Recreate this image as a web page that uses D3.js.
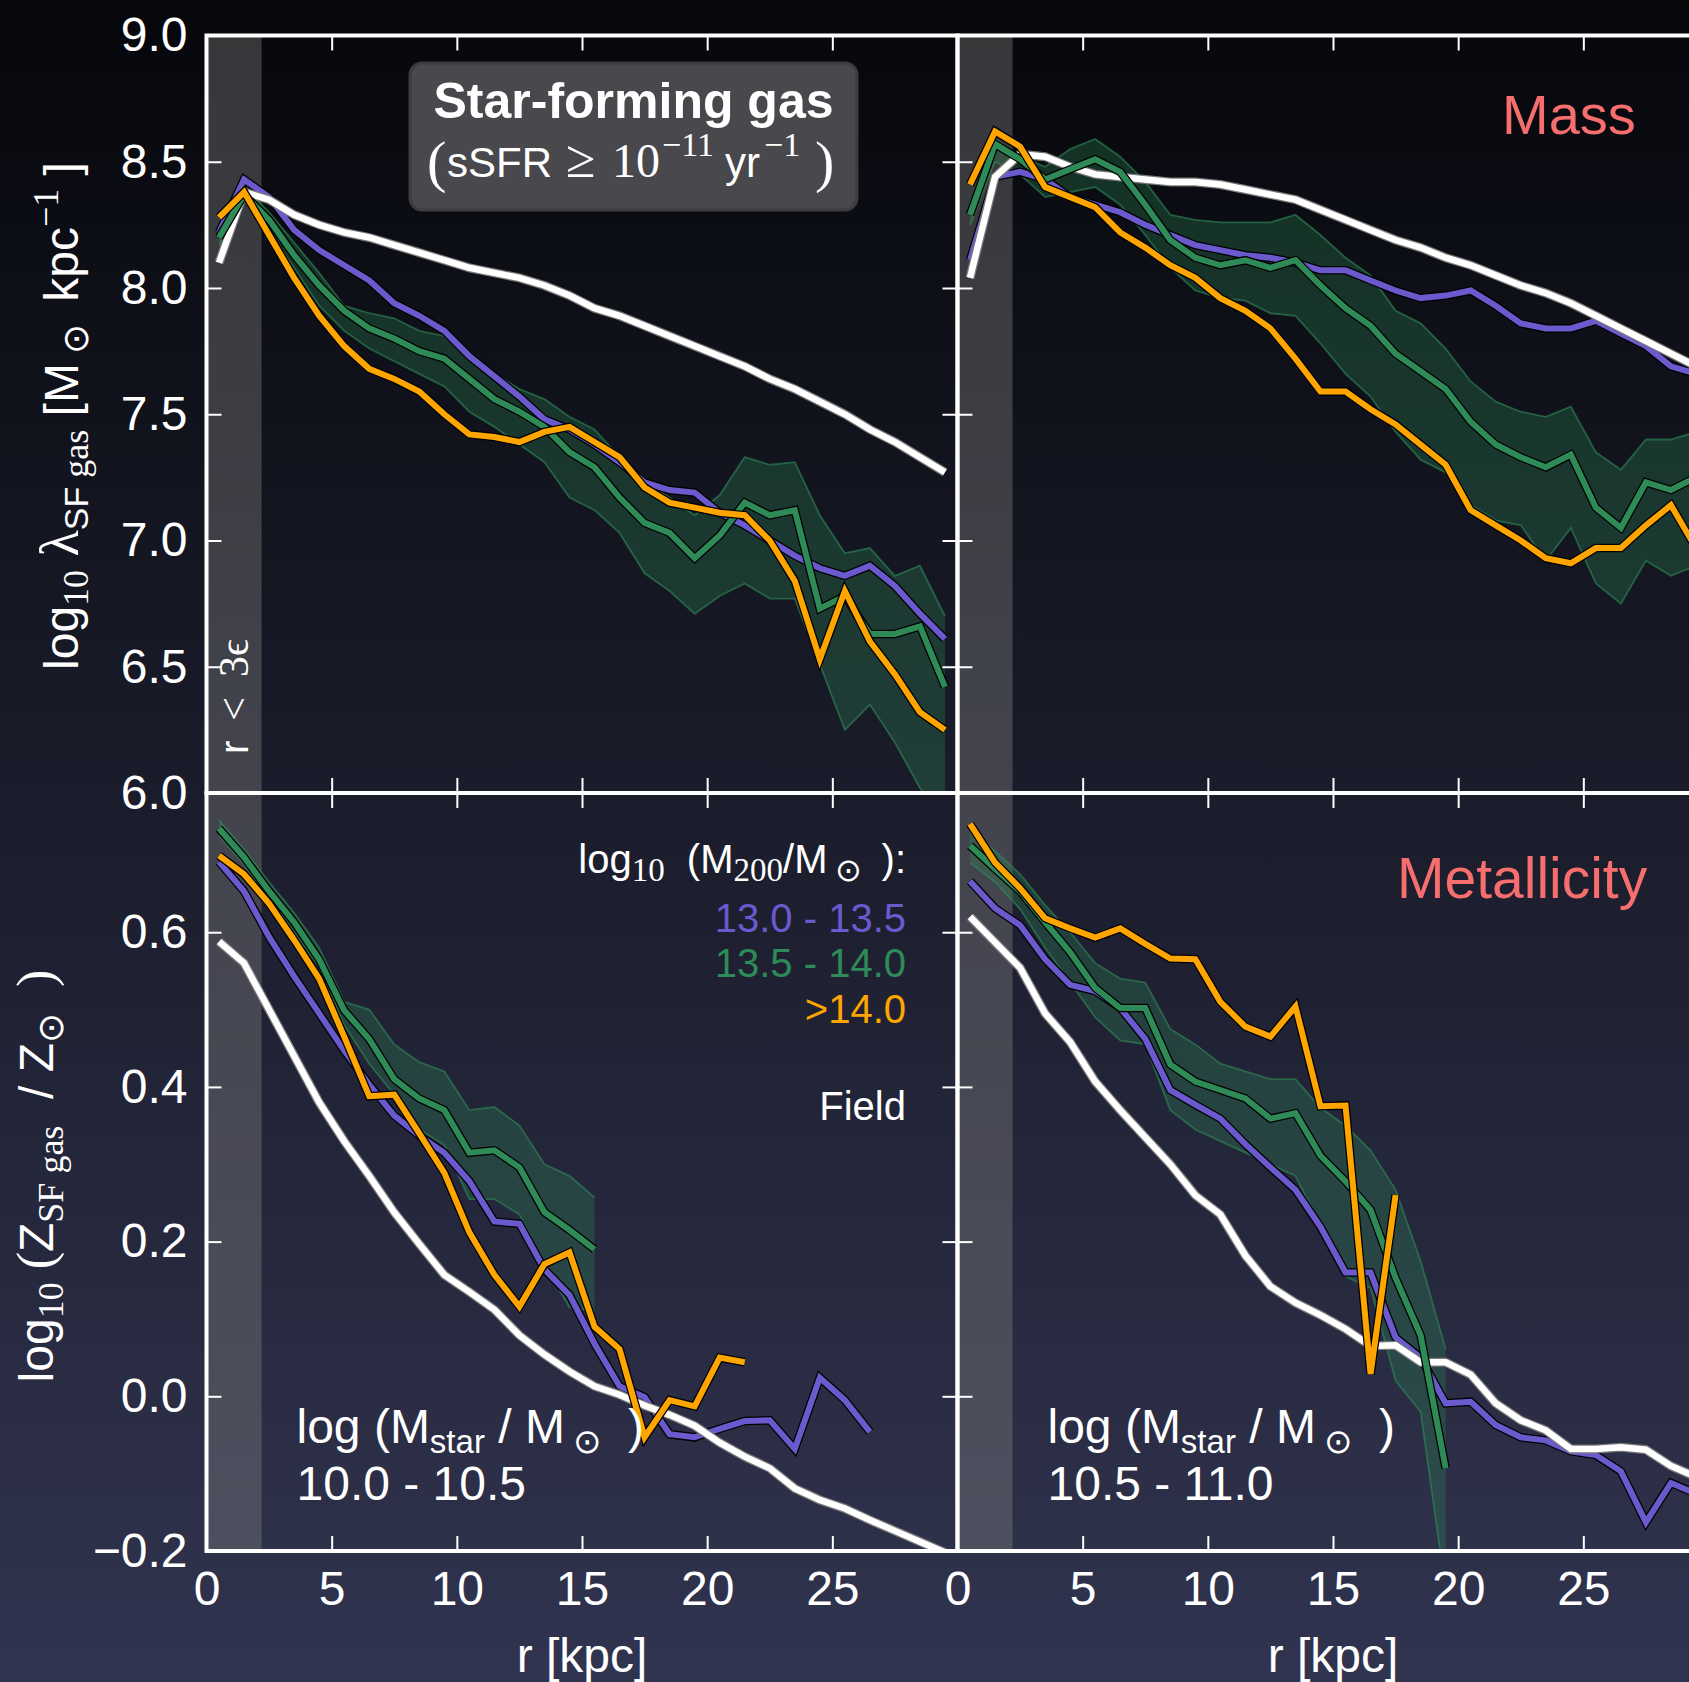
<!DOCTYPE html>
<html>
<head>
<meta charset="utf-8">
<script src="https://cdn.jsdelivr.net/npm/d3@7"></script>
<style>
  html, body { margin: 0; padding: 0; background: #06070b; overflow: hidden; }
  text { white-space: pre; }
</style>
</head>
<body>
<script>
// Radial bins (kpc, bin centres)
const radii = [0.5, 1.5, 2.5, 3.5, 4.5, 5.5, 6.5, 7.5, 8.5, 9.5, 10.5, 11.5, 12.5, 13.5, 14.5,
               15.5, 16.5, 17.5, 18.5, 19.5, 20.5, 21.5, 22.5, 23.5, 24.5, 25.5, 26.5, 27.5, 28.5, 29.5];

// Halo-mass bins
const haloLabels = ["13.0 - 13.5", "13.5 - 14.0", ">14.0"];

// Star-forming gas mass profile, log Mstar 10.0 - 10.5
const massLoField = [8.10, 8.38, 8.35, 8.29, 8.25, 8.22, 8.20, 8.17, 8.14, 8.11, 8.08, 8.06, 8.04, 8.01, 7.97,
                     7.92, 7.89, 7.85, 7.81, 7.77, 7.73, 7.69, 7.64, 7.60, 7.55, 7.50, 7.44, 7.39, 7.33, 7.27];
const massLoH13 = [8.22, 8.43, 8.36, 8.23, 8.15, 8.09, 8.03, 7.94, 7.89, 7.83, 7.73, 7.65, 7.57, 7.48, 7.44,
                   7.38, 7.31, 7.23, 7.20, 7.19, 7.11, 7.06, 7.00, 6.94, 6.89, 6.86, 6.90, 6.82, 6.71, 6.61];
const massLoH135 = [8.20, 8.37, 8.27, 8.13, 8.01, 7.91, 7.84, 7.80, 7.75, 7.72, 7.64, 7.56, 7.51, 7.45, 7.35,
                    7.29, 7.17, 7.07, 7.03, 6.93, 7.02, 7.15, 7.10, 7.12, 6.73, 6.78, 6.63, 6.63, 6.66, 6.42];
const massLoH135Hi = [8.22, 8.40, 8.30, 8.18, 8.06, 7.93, 7.90, 7.88, 7.83, 7.81, 7.72, 7.66, 7.60, 7.56, 7.49,
                      7.44, 7.33, 7.23, 7.17, 7.10, 7.18, 7.33, 7.30, 7.31, 7.10, 6.95, 6.97, 6.86, 6.90, 6.70];
const massLoH135Lo = [8.17, 8.35, 8.22, 8.08, 7.93, 7.83, 7.76, 7.71, 7.66, 7.61, 7.51, 7.45, 7.38, 7.31, 7.17,
                      7.12, 7.03, 6.87, 6.80, 6.71, 6.78, 6.83, 6.77, 6.77, 6.51, 6.25, 6.35, 6.20, 6.02, 5.90];
const massLoH14 = [8.28, 8.38, 8.21, 8.04, 7.89, 7.77, 7.68, 7.64, 7.59, 7.50, 7.42, 7.41, 7.39, 7.43, 7.45,
                   7.39, 7.33, 7.21, 7.15, 7.13, 7.11, 7.10, 7.00, 6.84, 6.53, 6.80, 6.60, 6.47, 6.32, 6.25];

// Star-forming gas mass profile, log Mstar 10.5 - 11.0
const massHiField = [8.04, 8.44, 8.53, 8.52, 8.48, 8.45, 8.44, 8.43, 8.42, 8.42, 8.41, 8.39, 8.37, 8.35, 8.31,
                     8.27, 8.23, 8.19, 8.16, 8.12, 8.09, 8.05, 8.01, 7.98, 7.94, 7.89, 7.84, 7.79, 7.74, 7.69];
const massHiH13 = [8.11, 8.44, 8.46, 8.43, 8.36, 8.33, 8.30, 8.25, 8.21, 8.17, 8.15, 8.13, 8.12, 8.10, 8.07,
                   8.07, 8.03, 7.99, 7.96, 7.97, 7.99, 7.93, 7.86, 7.84, 7.84, 7.87, 7.82, 7.77, 7.69, 7.66];
const massHiH135 = [8.29, 8.57, 8.51, 8.43, 8.47, 8.51, 8.46, 8.33, 8.19, 8.12, 8.09, 8.11, 8.08, 8.11, 8.01,
                    7.92, 7.85, 7.74, 7.67, 7.60, 7.47, 7.38, 7.33, 7.29, 7.34, 7.13, 7.05, 7.23, 7.20, 7.25];
const massHiH135Hi = [8.33, 8.59, 8.52, 8.48, 8.55, 8.59, 8.52, 8.42, 8.29, 8.27, 8.26, 8.26, 8.26, 8.29, 8.21,
                      8.12, 8.05, 7.91, 7.86, 7.76, 7.63, 7.55, 7.51, 7.49, 7.53, 7.35, 7.28, 7.40, 7.40, 7.43];
const massHiH135Lo = [8.25, 8.50, 8.45, 8.36, 8.38, 8.40, 8.33, 8.21, 8.08, 7.99, 7.96, 7.95, 7.90, 7.89, 7.78,
                      7.66, 7.57, 7.43, 7.32, 7.27, 7.14, 7.08, 7.06, 6.92, 7.05, 6.83, 6.75, 6.92, 6.86, 6.90];
const massHiH14 = [8.41, 8.62, 8.56, 8.40, 8.36, 8.32, 8.22, 8.16, 8.09, 8.04, 7.96, 7.91, 7.84, 7.72, 7.59,
                   7.59, 7.52, 7.46, 7.38, 7.30, 7.12, 7.06, 7.00, 6.93, 6.91, 6.97, 6.97, 7.06, 7.14, 6.97];

// Star-forming gas metallicity profile, log Mstar 10.0 - 10.5
const metalLoField = [0.588, 0.560, 0.500, 0.440, 0.380, 0.330, 0.285, 0.238, 0.197, 0.157, 0.135, 0.112, 0.079, 0.054, 0.032,
                      0.013, 0.002, -0.012, -0.024, -0.038, -0.060, -0.078, -0.093, -0.119, -0.134, -0.145, -0.160, -0.174, -0.188, -0.202];
const metalLoH13 = [0.691, 0.653, 0.594, 0.543, 0.495, 0.447, 0.403, 0.363, 0.337, 0.315, 0.278, 0.226, 0.223, 0.164, 0.131,
                    0.068, 0.013, -0.001, -0.049, -0.053, -0.042, -0.032, -0.031, -0.068, 0.024, -0.005, -0.046];
const metalLoH135 = [0.734, 0.697, 0.653, 0.613, 0.565, 0.499, 0.462, 0.410, 0.385, 0.370, 0.315, 0.318, 0.296, 0.238, 0.215, 0.190];
const metalLoH135Hi = [0.745, 0.707, 0.665, 0.625, 0.580, 0.510, 0.500, 0.455, 0.432, 0.420, 0.370, 0.374, 0.350, 0.300, 0.285, 0.257];
const metalLoH135Lo = [0.725, 0.688, 0.645, 0.600, 0.555, 0.480, 0.430, 0.390, 0.345, 0.325, 0.255, 0.255, 0.235, 0.170, 0.115, 0.110];
const metalLoH14 = [0.699, 0.675, 0.637, 0.590, 0.540, 0.465, 0.388, 0.390, 0.340, 0.289, 0.212, 0.157, 0.116, 0.171, 0.186,
                    0.090, 0.061, -0.053, -0.005, -0.013, 0.050, 0.044];

// Star-forming gas metallicity profile, log Mstar 10.5 - 11.0
const metalHiField = [0.620, 0.587, 0.554, 0.495, 0.458, 0.407, 0.370, 0.335, 0.300, 0.260, 0.235, 0.182, 0.142, 0.121, 0.105,
                      0.087, 0.065, 0.066, 0.044, 0.044, 0.028, -0.009, -0.031, -0.044, -0.068, -0.068, -0.066, -0.069, -0.090, -0.104];
const metalHiH13 = [0.666, 0.631, 0.609, 0.565, 0.532, 0.524, 0.502, 0.462, 0.396, 0.377, 0.359, 0.326, 0.296, 0.267, 0.219,
                    0.160, 0.160, 0.076, 0.050, -0.009, -0.007, -0.037, -0.053, -0.057, -0.071, -0.076, -0.097, -0.163, -0.112, -0.126];
const metalHiH135 = [0.712, 0.682, 0.653, 0.613, 0.574, 0.528, 0.502, 0.502, 0.429, 0.407, 0.396, 0.385, 0.359, 0.366, 0.311,
                     0.278, 0.241, 0.153, 0.079, -0.093];
const metalHiH135Hi = [0.730, 0.705, 0.675, 0.635, 0.600, 0.560, 0.540, 0.535, 0.475, 0.455, 0.430, 0.420, 0.410, 0.410, 0.373,
                       0.350, 0.318, 0.267, 0.175, 0.061];
const metalHiH135Lo = [0.690, 0.665, 0.630, 0.580, 0.535, 0.490, 0.460, 0.455, 0.370, 0.345, 0.330, 0.315, 0.300, 0.285, 0.220,
                       0.155, 0.140, 0.020, -0.020, -0.250];
const metalHiH14 = [0.740, 0.690, 0.657, 0.618, 0.605, 0.593, 0.605, 0.585, 0.566, 0.565, 0.510, 0.478, 0.465, 0.504, 0.375,
                    0.376, 0.029, 0.260];

// Axis ticks
const xTicks = [5, 10, 15, 20, 25];
const xTickLabels = [0, 5, 10, 15, 20, 25];
const massTicks = [6.5, 7.0, 7.5, 8.0, 8.5];
const massTickLabels = [6.0, 6.5, 7.0, 7.5, 8.0, 8.5, 9.0];
const metalTicks = [0.0, 0.2, 0.4, 0.6];
const metalTickLabels = [-0.2, 0.0, 0.2, 0.4, 0.6];
const softeningRadius = 2.2; // r < 3 epsilon

// ---------------------------------------------------------------
const W = 1689, H = 1682;
const SANS = "'Liberation Sans', Arial, Helvetica, sans-serif";
const SERIF = "'Liberation Serif', 'Times New Roman', serif";
const C_H13 = "#6a5acd", C_H135 = "#2e8b57", C_H14 = "#ffa500", C_TITLE = "#f76e6e";

const svg = d3.select("body").append("svg")
  .attr("width", W).attr("height", H)
  .attr("xml:space", "preserve");

const defs = svg.append("defs");
const grad = defs.append("linearGradient").attr("id", "bg")
  .attr("x1", 0).attr("y1", 0).attr("x2", 0).attr("y2", 1);
grad.append("stop").attr("offset", 0).attr("stop-color", "#06070b");
grad.append("stop").attr("offset", 1).attr("stop-color", "#31344f");
svg.append("rect").attr("width", W).attr("height", H).attr("fill", "url(#bg)");

const cols = [{x0: 206.5, x1: 957.5}, {x0: 957.5, x1: 1708.5}];
const rows = [{y0: 35.5, y1: 793}, {y0: 793, y1: 1551}];

const panels = [
  {id: "mLo", col: 0, row: 0, yDomain: [6, 9], field: massLoField, h13: massLoH13, h135: massLoH135,
   h135Hi: massLoH135Hi, h135Lo: massLoH135Lo, h14: massLoH14},
  {id: "mHi", col: 1, row: 0, yDomain: [6, 9], field: massHiField, h13: massHiH13, h135: massHiH135,
   h135Hi: massHiH135Hi, h135Lo: massHiH135Lo, h14: massHiH14},
  {id: "zLo", col: 0, row: 1, yDomain: [-0.2, 0.78], field: metalLoField, h13: metalLoH13, h135: metalLoH135,
   h135Hi: metalLoH135Hi, h135Lo: metalLoH135Lo, h14: metalLoH14},
  {id: "zHi", col: 1, row: 1, yDomain: [-0.2, 0.78], field: metalHiField, h13: metalHiH13, h135: metalHiH135,
   h135Hi: metalHiH135Hi, h135Lo: metalHiH135Lo, h14: metalHiH14}
];

// Text with mixed fonts and sub/superscripts
function rich(parent, x, y, parts, opts = {}) {
  const t = parent.append("text")
    .attr("x", x).attr("y", y)
    .attr("fill", opts.fill || "#fff")
    .attr("text-anchor", opts.anchor || "start")
    .attr("font-family", SANS);
  if (opts.rotate) t.attr("transform", `rotate(-90 ${x} ${y})`);
  let cur = 0;
  parts.forEach(p => {
    const shift = p.shift || 0;
    const ts = t.append("tspan")
      .attr("dy", shift - cur)
      .attr("font-family", p.serif ? SERIF : SANS)
      .attr("font-size", p.size)
      .text(p.t);
    if (p.bold) ts.attr("font-weight", "bold");
    if (p.dx) ts.attr("dx", p.dx);
    if (p.x !== undefined) ts.attr("x", p.x);
    cur = shift;
  });
  return t;
}

panels.forEach(p => {
  const c = cols[p.col], r = rows[p.row];
  const x = d3.scaleLinear().domain([0, 30]).range([c.x0, c.x1]);
  const y = d3.scaleLinear().domain(p.yDomain).range([r.y1, r.y0]);

  defs.append("clipPath").attr("id", "clip-" + p.id)
    .append("rect").attr("x", c.x0).attr("y", r.y0).attr("width", c.x1 - c.x0).attr("height", r.y1 - r.y0);

  const g = svg.append("g").attr("clip-path", `url(#clip-${p.id})`);

  // softening region
  g.append("rect")
    .attr("x", x(0)).attr("y", r.y0)
    .attr("width", x(softeningRadius) - x(0)).attr("height", r.y1 - r.y0)
    .attr("fill", "#808080").attr("fill-opacity", 0.4);

  // 13.5 - 14.0 scatter band
  const band = radii.slice(0, p.h135Hi.length).map((rr, i) => ({r: rr, hi: p.h135Hi[i], lo: p.h135Lo[i]}));
  g.append("path").datum(band)
    .attr("d", d3.area().x(d => x(d.r)).y0(d => y(d.lo)).y1(d => y(d.hi)))
    .attr("fill", C_H135).attr("fill-opacity", 0.3);
  ["hi", "lo"].forEach(k => {
    g.append("path").datum(band)
      .attr("d", d3.line().x(d => x(d.r)).y(d => y(d[k])))
      .attr("fill", "none").attr("stroke", C_H135).attr("stroke-opacity", 0.6).attr("stroke-width", 1.8);
  });

  const line = d3.line().x(d => x(d[0])).y(d => y(d[1]));
  const pts = arr => arr.map((v, i) => [radii[i], v]);

  function drawLine(arr, color, outline, w, ow) {
    g.append("path").datum(pts(arr)).attr("d", line)
      .attr("fill", "none").attr("stroke", outline).attr("stroke-width", ow)
      .attr("stroke-linejoin", "miter").attr("stroke-linecap", "butt");
    g.append("path").datum(pts(arr)).attr("d", line)
      .attr("fill", "none").attr("stroke", color).attr("stroke-width", w)
      .attr("stroke-linejoin", "miter").attr("stroke-linecap", "butt");
  }
  drawLine(p.h13, C_H13, "#000", 6, 8.5);
  drawLine(p.field, "#ffffff", "#7a7a7a", 6.5, 9);
  drawLine(p.h135, C_H135, "#000", 6, 8.5);
  drawLine(p.h14, C_H14, "#000", 6, 8.5);

  // axes: inward ticks on every side
  const ax = svg.append("g").attr("class", "axes");
  const tick = 15;
  const yTicks = p.row === 0 ? massTicks : metalTicks;

  const top = ax.append("g").attr("transform", `translate(0,${r.y0})`)
    .call(d3.axisTop(x).tickValues(xTicks).tickSize(-tick).tickFormat(""));
  const bottom = ax.append("g").attr("transform", `translate(0,${r.y1})`)
    .call(d3.axisBottom(x).tickValues(xTicks).tickSize(-tick).tickFormat(""));
  const left = ax.append("g").attr("transform", `translate(${c.x0},0)`)
    .call(d3.axisLeft(y).tickValues(yTicks).tickSize(-tick).tickFormat(""));
  const right = ax.append("g").attr("transform", `translate(${c.x1},0)`)
    .call(d3.axisRight(y).tickValues(yTicks).tickSize(-tick).tickFormat(""));
  [top, bottom, left, right].forEach(a => {
    a.select(".domain").remove();
    a.selectAll(".tick line").attr("stroke", "#fff").attr("stroke-width", 2);
  });

  // tick labels
  if (p.row === 1) {
    const lab = ax.append("g").attr("transform", `translate(0,${r.y1})`)
      .call(d3.axisBottom(x).tickValues(xTickLabels).tickSize(0).tickPadding(20).tickFormat(d3.format("d")));
    lab.select(".domain").remove();
    lab.selectAll("text").attr("fill", "#fff").attr("font-family", SANS).attr("font-size", 48);
  }
  if (p.col === 0) {
    const vals = p.row === 0 ? massTickLabels : metalTickLabels;
    const lab = ax.append("g").attr("transform", `translate(${c.x0},0)`)
      .call(d3.axisLeft(y).tickValues(vals).tickSize(0).tickPadding(19)
        .tickFormat(v => d3.format(".1f")(v).replace("-", "\u2212")));
    lab.select(".domain").remove();
    lab.selectAll("text").attr("fill", "#fff").attr("font-family", SANS).attr("font-size", 48);
  }

  // spines
  ax.append("rect").attr("x", c.x0).attr("y", r.y0)
    .attr("width", c.x1 - c.x0).attr("height", r.y1 - r.y0)
    .attr("fill", "none").attr("stroke", "#fff").attr("stroke-width", 4);

  // x-axis title
  if (p.row === 1) {
    svg.append("text").attr("x", (c.x0 + c.x1) / 2).attr("y", 1672)
      .attr("text-anchor", "middle").attr("fill", "#fff")
      .attr("font-family", SANS).attr("font-size", 48).text("r [kpc]");
  }

  // stellar-mass annotation in the metallicity row
  if (p.row === 1) {
    const xs = c.x0 + 90;
    rich(svg, xs, 1443, [
      {t: "log (M", size: 48}, {t: "star", size: 33, shift: 10}, {t: " / M", size: 48},
      {t: " \u2299", size: 34, serif: true, shift: 10}, {t: "  )", size: 48}
    ]);
    svg.append("text").attr("x", xs).attr("y", 1500).attr("fill", "#fff")
      .attr("font-family", SANS).attr("font-size", 48)
      .text(p.col === 0 ? "10.0 - 10.5" : "10.5 - 11.0");
  }
});

// softening label
rich(svg, 248, 754, [
  {t: "r", size: 40},
  {t: "<", size: 42, serif: true, dx: 20},
  {t: "3\u03f5", size: 42, serif: true, dx: 20}
], {rotate: true});

// y-axis titles
rich(svg, 78, 416, [
  {t: "log", size: 48}, {t: "10", size: 36, serif: true, shift: 10},
  {t: " \u03bb", size: 54, serif: true},
  {t: "SF", size: 34, shift: 10}, {t: " gas", size: 36, serif: true, shift: 10},
  {t: " [M", size: 48}, {t: " \u2299 ", size: 36, serif: true, shift: 10},
  {t: " kpc", size: 48}, {t: "\u22121", size: 36, serif: true, shift: -20},
  {t: " ]", size: 48}
], {rotate: true, anchor: "middle"});

rich(svg, 53, 1176, [
  {t: "log", size: 48}, {t: "10", size: 36, serif: true, shift: 10},
  {t: " (", size: 52, serif: true},
  {t: "Z", size: 48}, {t: "SF gas", size: 36, serif: true, shift: 10},
  {t: "  / Z", size: 48}, {t: "\u2299", size: 36, serif: true, shift: 10},
  {t: "  )", size: 52, serif: true}
], {rotate: true, anchor: "middle"});

// star-forming gas box
svg.append("rect").attr("x", 410).attr("y", 63).attr("width", 447).attr("height", 147)
  .attr("rx", 12).attr("fill", "#48484d").attr("stroke", "#3c3c41").attr("stroke-width", 3);
svg.append("text").attr("x", 633.5).attr("y", 118).attr("text-anchor", "middle")
  .attr("fill", "#fff").attr("font-family", SANS).attr("font-weight", "bold").attr("font-size", 50)
  .text("Star-forming gas");
rich(svg, 429, 177, [
  {t: "(", size: 58, serif: true, x: 427, shift: 4},
  {t: "sSFR", size: 42, x: 447},
  {t: "\u2265", size: 54, serif: true, x: 566},
  {t: "10", size: 48, serif: true, x: 612},
  {t: "\u221211", size: 34, serif: true, x: 662, shift: -21},
  {t: "yr", size: 42, x: 725},
  {t: "\u22121", size: 34, serif: true, x: 764, shift: -21},
  {t: ")", size: 58, serif: true, x: 815, shift: 4}
]);

// quantity titles
svg.append("text").attr("x", 1502).attr("y", 134).attr("fill", C_TITLE)
  .attr("font-family", SANS).attr("font-size", 56).text("Mass");
svg.append("text").attr("x", 1397).attr("y", 898).attr("fill", C_TITLE)
  .attr("font-family", SANS).attr("font-size", 57).text("Metallicity");

// legend
const legX = 906;
rich(svg, legX, 873, [
  {t: "log", size: 40}, {t: "10", size: 33, serif: true, shift: 8},
  {t: "  (M", size: 40}, {t: "200", size: 33, serif: true, shift: 8},
  {t: "/M", size: 40}, {t: " \u2299 ", size: 32, serif: true, shift: 8},
  {t: " ):", size: 40}
], {anchor: "end"});
[C_H13, C_H135, C_H14].forEach((col, i) => {
  svg.append("text").attr("x", legX).attr("y", [932, 977, 1023][i]).attr("text-anchor", "end")
    .attr("fill", col).attr("font-family", SANS).attr("font-size", 40).text(haloLabels[i]);
});
svg.append("text").attr("x", legX).attr("y", 1120).attr("text-anchor", "end")
  .attr("fill", "#fff").attr("font-family", SANS).attr("font-size", 40).text("Field");
</script>
</body>
</html>
